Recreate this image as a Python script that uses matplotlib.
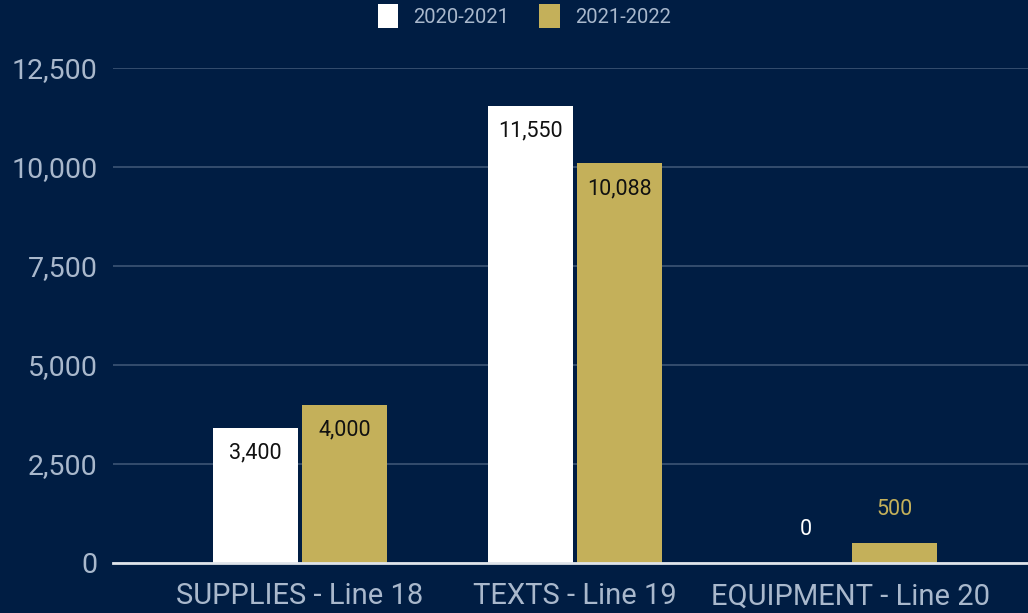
import numpy as np
import matplotlib
matplotlib.use("Agg")
import matplotlib.pyplot as plt
from matplotlib.patches import Patch

plt.rcParams["font.family"] = ["Roboto", "DejaVu Sans"]

categories = ["SUPPLIES - Line 18", "TEXTS - Line 19", "EQUIPMENT - Line 20"]
series_names = ["2020-2021", "2021-2022"]
values_2021 = [3400, 11550, 0]
values_2022 = [4000, 10088, 500]
yticks = [0, 2500, 5000, 7500, 10000, 12500]

BG = "#001d43"
GOLD = "#c4b05a"
TXT = "#a9b8cc"
GRID = "#3d5575"

fig = plt.figure(figsize=(10.28, 6.13), dpi=100, facecolor=BG)
ax = fig.add_axes([0.110, 0.0816, 0.890, 0.8075], facecolor=BG)

x = np.arange(len(categories))
w = 0.309
b1 = ax.bar(x - w / 2 - 0.007, values_2021, w, color="white", zorder=3)
b2 = ax.bar(x + w / 2 + 0.007, values_2022, w, color=GOLD, zorder=3)

ax.set_xlim(-0.68, 2.647)
ax.set_ylim(0, 12500)
ax.set_yticks(yticks)
ax.set_yticklabels([f"{v:,}" for v in yticks])
ax.set_xticks(x)
ax.set_xticklabels(categories)
ax.tick_params(axis="y", length=0, pad=11, labelsize=20.5, labelcolor=TXT)
ax.tick_params(axis="x", length=0, pad=14, labelsize=21, labelcolor=TXT)
ax.grid(axis="y", color=GRID, linewidth=1.2, zorder=0)
ax.set_axisbelow(True)
for s in ["top", "right", "left"]:
    ax.spines[s].set_visible(False)
ax.spines["bottom"].set_color("#dfe4ea")
ax.spines["bottom"].set_linewidth(2)
ax.spines["bottom"].set_zorder(4)

# value labels: inside bar top when it fits, above bar otherwise
for bars, vals, col in [(b1, values_2021, "white"), (b2, values_2022, GOLD)]:
    for rect, v in zip(bars, vals):
        cx = rect.get_x() + rect.get_width() / 2
        if v > 2000:
            ax.text(cx, v - 630, f"{v:,}", ha="center", va="center",
                    fontsize=15.5, color="#111111", zorder=5)
        else:
            ax.text(cx, v + 840, f"{v:,}", ha="center", va="center",
                    fontsize=15.5, color=col, zorder=5)

handles = [Patch(facecolor="white", edgecolor="none"),
           Patch(facecolor=GOLD, edgecolor="none")]
leg = fig.legend(handles, series_names, loc="center", bbox_to_anchor=(0.51, 0.974),
                 ncol=2, frameon=False, fontsize=14.5, handlelength=1.0,
                 handleheight=1.45, handletextpad=0.75, columnspacing=1.5)
for t in leg.get_texts():
    t.set_color(TXT)

fig.savefig("out.png", dpi=100, facecolor=BG)
